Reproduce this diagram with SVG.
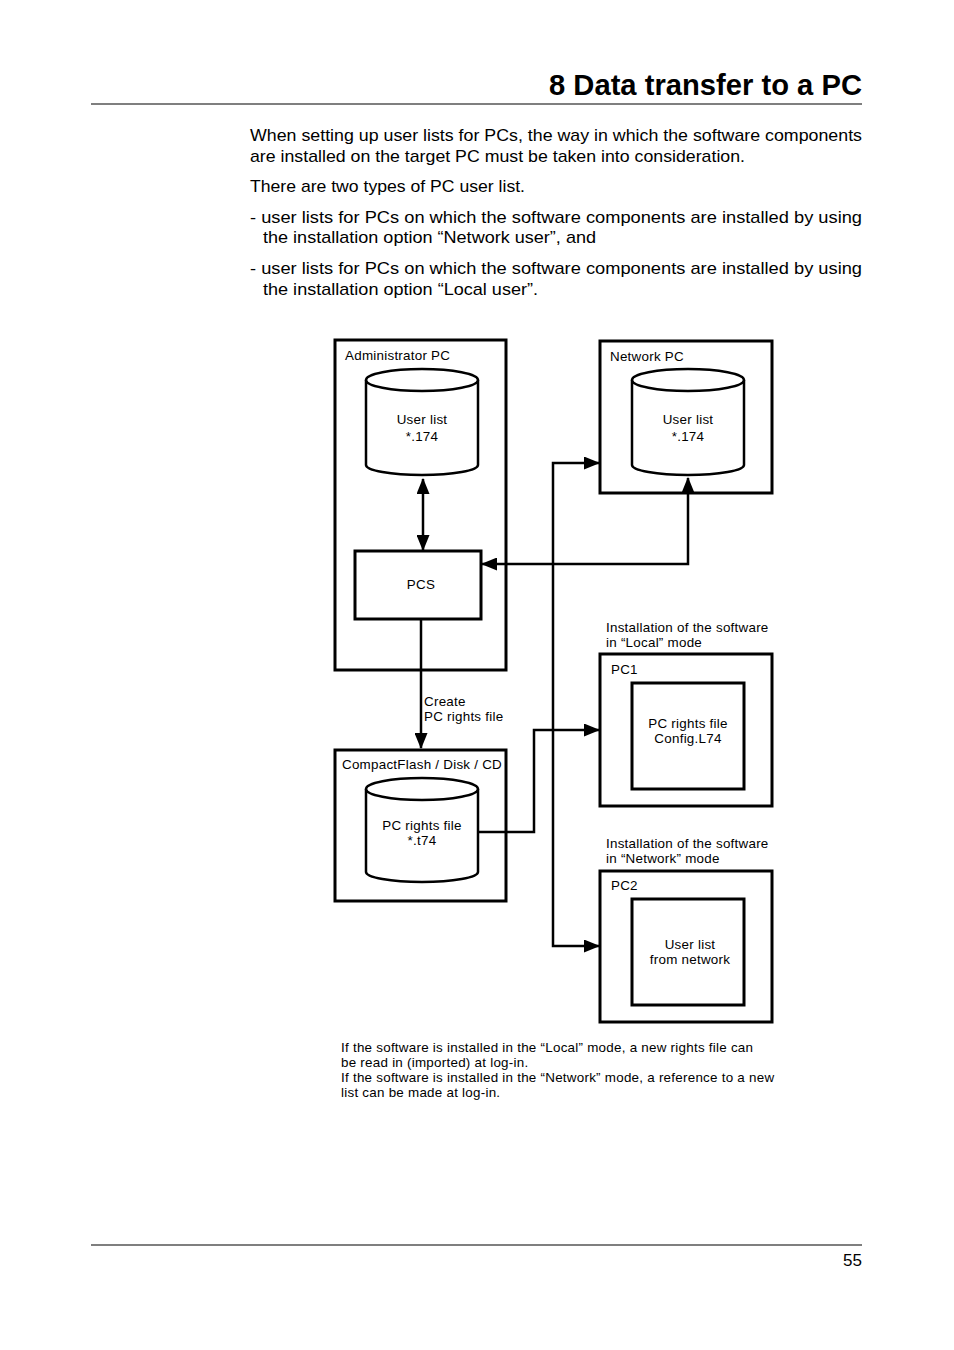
<svg xmlns="http://www.w3.org/2000/svg" width="954" height="1350" viewBox="0 0 954 1350">
<style>
text{font-family:"Liberation Sans",Arial,sans-serif;fill:#000}
.body{font-size:17px}
.d{font-size:13.4px;letter-spacing:0.25px}
.c{text-anchor:middle}
.box{fill:none;stroke:#000;stroke-width:3}
.cyl{fill:#fff;stroke:#000;stroke-width:2.5}
.ln{fill:none;stroke:#000;stroke-width:2.5}
</style>
<defs>
<marker id="ah" viewBox="0 0 16 13" refX="15" refY="6.5" markerWidth="16" markerHeight="13" markerUnits="userSpaceOnUse" orient="auto-start-reverse">
<path d="M0,0 L16,6.5 L0,13 Z" fill="#000"/>
</marker>
</defs>
<rect width="954" height="1350" fill="#fff"/>
<text x="862" y="95" text-anchor="end" textLength="313" lengthAdjust="spacingAndGlyphs" style="font-size:29px;font-weight:bold">8 Data transfer to a PC</text>
<line x1="91" y1="104" x2="862" y2="104" stroke="#000" stroke-width="1.2"/>
<text class="body" x="250" y="141" textLength="612" lengthAdjust="spacingAndGlyphs">When setting up user lists for PCs, the way in which the software components</text>
<text class="body" x="250" y="162" textLength="495" lengthAdjust="spacingAndGlyphs">are installed on the target PC must be taken into consideration.</text>
<text class="body" x="250" y="192" textLength="275" lengthAdjust="spacingAndGlyphs">There are two types of PC user list.</text>
<text class="body" x="250" y="223" textLength="612" lengthAdjust="spacingAndGlyphs">- user lists for PCs on which the software components are installed by using</text>
<text class="body" x="263" y="243" textLength="333" lengthAdjust="spacingAndGlyphs">the installation option “Network user”, and</text>
<text class="body" x="250" y="274" textLength="612" lengthAdjust="spacingAndGlyphs">- user lists for PCs on which the software components are installed by using</text>
<text class="body" x="263" y="295" textLength="275" lengthAdjust="spacingAndGlyphs">the installation option “Local user”.</text>

<g id="connectors">
<line class="ln" x1="423" y1="479" x2="423" y2="550" marker-start="url(#ah)" marker-end="url(#ah)"/>
<polyline class="ln" points="688,536 688,564 482,564" marker-end="url(#ah)"/>
<line class="ln" x1="688" y1="536" x2="688" y2="478" marker-end="url(#ah)"/>
<line class="ln" x1="421" y1="619" x2="421" y2="748" marker-end="url(#ah)"/>
<polyline class="ln" points="478,832 534,832 534,730 599,730" marker-end="url(#ah)"/>
<polyline class="ln" points="599,463 553,463 553,946 599,946" marker-start="url(#ah)" marker-end="url(#ah)"/>
</g>

<g id="admin-pc">
<rect class="box" x="335" y="340" width="171" height="330"/>
<text class="d" x="345" y="360">Administrator PC</text>
</g>
<g id="admin-userlist">
<path class="cyl" d="M366,380 L366,465 A56,10 0 0 0 478,465 L478,380"/>
<ellipse class="cyl" cx="422" cy="380" rx="56" ry="11"/>
<text class="d c" x="422" y="424">User list</text>
<text class="d c" x="422" y="441">*.174</text>
</g>
<g id="pcs">
<rect class="box" x="355" y="551" width="126" height="68" fill="#fff"/>
<text class="d c" x="421" y="589">PCS</text>
</g>

<g id="network-pc">
<rect class="box" x="600" y="341" width="172" height="152"/>
<text class="d" x="610" y="361">Network PC</text>
</g>
<g id="network-userlist">
<path class="cyl" d="M632,380 L632,465 A56,10 0 0 0 744,465 L744,380"/>
<ellipse class="cyl" cx="688" cy="380" rx="56" ry="11"/>
<text class="d c" x="688" y="424">User list</text>
<text class="d c" x="688" y="441">*.174</text>
</g>

<g id="create-label">
<text class="d" x="424" y="706">Create</text>
<text class="d" x="424" y="721">PC rights file</text>
</g>

<g id="compactflash">
<rect class="box" x="335" y="750" width="171" height="151"/>
<text class="d" x="342" y="769">CompactFlash / Disk / CD</text>
</g>
<g id="cf-rightsfile">
<path class="cyl" d="M366,789 L366,872 A56,10 0 0 0 478,872 L478,789"/>
<ellipse class="cyl" cx="422" cy="789" rx="56" ry="11"/>
<text class="d c" x="422" y="830">PC rights file</text>
<text class="d c" x="422" y="845">*.t74</text>
</g>

<g id="pc1">
<text class="d" x="606" y="632">Installation of the software</text>
<text class="d" x="606" y="647">in “Local” mode</text>
<rect class="box" x="600" y="654" width="172" height="152"/>
<text class="d" x="611" y="674">PC1</text>
<rect class="box" x="632" y="683" width="112" height="106"/>
<text class="d c" x="688" y="728">PC rights file</text>
<text class="d c" x="688" y="743">Config.L74</text>
</g>

<g id="pc2">
<text class="d" x="606" y="848">Installation of the software</text>
<text class="d" x="606" y="863">in “Network” mode</text>
<rect class="box" x="600" y="871" width="172" height="151"/>
<text class="d" x="611" y="890">PC2</text>
<rect class="box" x="632" y="899" width="112" height="106"/>
<text class="d c" x="690" y="949">User list</text>
<text class="d c" x="690" y="964">from network</text>
</g>

<g id="note">
<text class="d" x="341" y="1052">If the software is installed in the “Local” mode, a new rights file can</text>
<text class="d" x="341" y="1067">be read in (imported) at log-in.</text>
<text class="d" x="341" y="1082">If the software is installed in the “Network” mode, a reference to a new</text>
<text class="d" x="341" y="1097">list can be made at log-in.</text>
</g>

<line x1="91" y1="1245" x2="862" y2="1245" stroke="#000" stroke-width="1.2"/>
<text class="body" x="862" y="1266" text-anchor="end">55</text>
</svg>
